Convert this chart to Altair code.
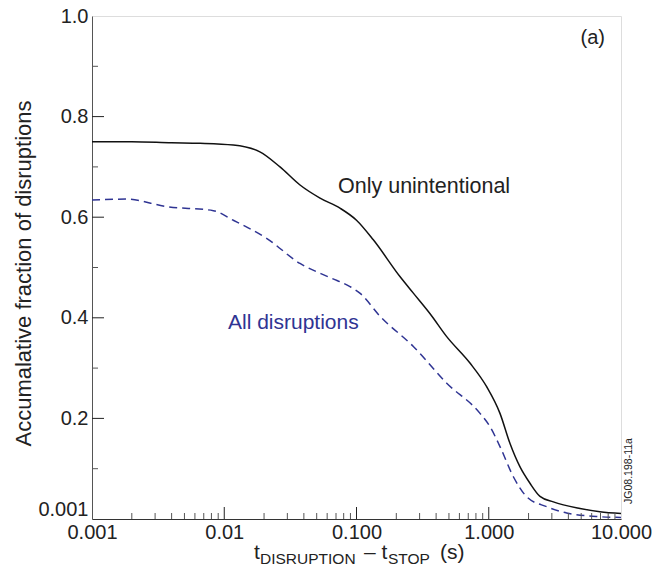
import altair as alt
import pandas as pd

# ---- data ----
solid_x = [0.001, 0.002, 0.004, 0.00656, 0.0117, 0.0186, 0.0264, 0.0374, 0.053, 0.075,
           0.100, 0.134, 0.213, 0.269, 0.36, 0.481, 0.721, 0.964, 1.216, 1.448,
           1.72, 2.05, 2.44, 3.08, 4.9, 6.93, 10.0]
solid_y = [0.750, 0.750, 0.748, 0.747, 0.7435, 0.730, 0.700, 0.664, 0.638, 0.618,
           0.594, 0.555, 0.482, 0.449, 0.408, 0.3625, 0.310, 0.263, 0.210, 0.150,
           0.104, 0.071, 0.045, 0.034, 0.021, 0.0145, 0.011]

dash_x = [0.001, 0.00183, 0.00367, 0.00827, 0.0117, 0.0209, 0.0374, 0.063, 0.0893, 0.106,
          0.1507, 0.269, 0.481, 0.859, 1.022, 1.216, 1.535, 1.94, 2.74, 3.88, 6.5, 10.0]
dash_y = [0.634, 0.636, 0.621, 0.613, 0.594, 0.558, 0.508, 0.480, 0.462, 0.449,
          0.403, 0.343, 0.270, 0.210, 0.1835, 0.144, 0.084, 0.044, 0.0245, 0.012, 0.005, 0.003]

x_major = [0.001, 0.01, 0.1, 1.0, 10.0]
x_minor = [m * d for d in [0.001, 0.01, 0.1, 1.0] for m in [2, 3, 4, 5, 6, 7, 8, 9]]
y_major = [0.0, 0.2, 0.4, 0.6, 0.8, 1.0]
y_minor = [0.1, 0.3, 0.5, 0.7, 0.9]

label_only = ["Only unintentional"]
label_all = ["All disruptions"]
label_panel = ["(a)"]
label_code = ["JG08.198-11a"]
y_title = "Accumalative fraction of disruptions"

FONT = "Liberation Sans"
BLUE = "#2f3493"
INK = "#222222"

xscale = alt.Scale(type="log", domain=[0.001, 10], nice=False)
yscale = alt.Scale(domain=[0, 1], nice=False, zero=False)

solid_df = pd.DataFrame({"x": solid_x, "y": solid_y})
dash_df = pd.DataFrame({"x": dash_x, "y": dash_y})

x_axis = alt.Axis(values=x_major,
                  labelExpr="datum.value == 0.001 ? '0.001' : datum.value == 0.01 ? '0.01' : format(datum.value, '.3f')",
                  ticks=False, tickSize=0, grid=False, title=None,
                  domainColor="#333333", labelFont=FONT, labelFontSize=20,
                  labelColor=INK, labelPadding=3, labelFlush=False,
                  labelOverlap=False)
y_axis = alt.Axis(values=y_major,
                  labelExpr="datum.value == 0 ? '0.001' : format(datum.value, '.1f')",
                  ticks=False, tickSize=0, grid=False, title=y_title,
                  domainColor="#555555", labelFont=FONT, labelFontSize=20,
                  labelColor=INK, labelPadding=4, labelFlush=False,
                  labelOverlap=False,
                  labelBaseline={"condition": {"test": "datum.value == 0", "value": "bottom"}, "value": "middle"},
                  titleFont=FONT, titleFontSize=22, titleFontWeight="normal",
                  titleColor=INK, titleX=-69, titleY=257, titleAngle=270,
                  titleAlign="center", titleBaseline="middle")

solid = alt.Chart(solid_df).mark_line(color="#111111", strokeWidth=1.5, interpolate="monotone").encode(
    x=alt.X("x:Q", scale=xscale, axis=x_axis),
    y=alt.Y("y:Q", scale=yscale, axis=y_axis),
)
dashed = alt.Chart(dash_df).mark_line(color=BLUE, strokeWidth=1.5, strokeDash=[8, 5],
                                      interpolate="monotone").encode(
    x=alt.X("x:Q", scale=xscale, axis=x_axis),
    y=alt.Y("y:Q", scale=yscale, axis=y_axis),
)

# inward ticks
ymaj = alt.Chart(pd.DataFrame({"y": y_major[1:-1]})).mark_rule(color=INK, strokeWidth=1).encode(
    y=alt.Y("y:Q", scale=yscale, axis=y_axis), x=alt.value(0), x2=alt.value(12))
ymin = alt.Chart(pd.DataFrame({"y": y_minor})).mark_rule(color="#555555", strokeWidth=1).encode(
    y=alt.Y("y:Q", scale=yscale, axis=y_axis), x=alt.value(0), x2=alt.value(6))
xmaj = alt.Chart(pd.DataFrame({"x": x_major[1:-1]})).mark_rule(color=INK, strokeWidth=1).encode(
    x=alt.X("x:Q", scale=xscale, axis=x_axis), y=alt.value(503), y2=alt.value(491))
xmin = alt.Chart(pd.DataFrame({"x": x_minor})).mark_rule(color="#555555", strokeWidth=1).encode(
    x=alt.X("x:Q", scale=xscale, axis=x_axis), y=alt.value(503), y2=alt.value(497))

def label(text_list, x, y, size, color=INK, align="left", baseline="middle", angle=0):
    kw = dict(font=FONT, fontSize=size, color=color, align=align, baseline=baseline)
    if angle:
        kw["angle"] = angle
    return alt.Chart(pd.DataFrame({"t": text_list})).mark_text(**kw).encode(
        text="t:N", x=alt.value(x), y=alt.value(y))

t_only = label(label_only, 246, 171, 21.5)
t_all = label(label_all, 136, 307, 21, color=BLUE)
t_panel = label(label_panel, 513, 22, 20, align="right")
t_code = label(label_code, 537, 455, 10.5, align="center", angle=270)

# x-axis title with subscripts
xt1 = label(["t"], 162, 543, 21, baseline="alphabetic")
xt2 = label(["DISRUPTION"], 168, 548, 15.5, baseline="alphabetic")
xt3 = label(["\u2013 t"], 272, 543, 21, baseline="alphabetic")
xt4 = label(["STOP"], 296, 548, 15.5, baseline="alphabetic")
xt5 = label(["(s)"], 348, 543, 21, baseline="alphabetic")

chart = alt.layer(
    solid, dashed, ymaj, ymin, xmaj, xmin,
    t_only, t_all, t_panel, t_code, xt1, xt2, xt3, xt4, xt5,
).properties(
    width=529, height=503,
    padding={"left": 92, "top": 16, "right": 32, "bottom": 51},
    autosize=alt.AutoSizeParams(type="none"),
).configure_view(stroke="#666666", strokeWidth=1).configure(background="white")

chart.save("out.html", embed_options={"renderer": "svg", "actions": False})
